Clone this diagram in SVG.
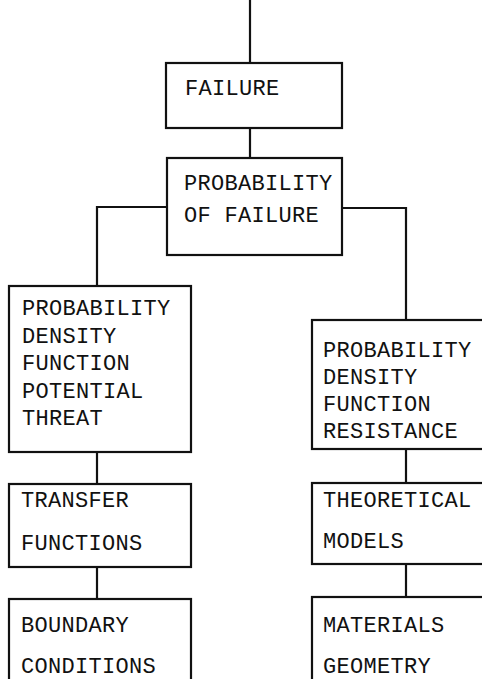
<svg xmlns="http://www.w3.org/2000/svg" width="482" height="679" viewBox="0 0 482 679">
<style>
.box{fill:#fff;stroke:#111;stroke-width:2.2}
.con{fill:none;stroke:#111;stroke-width:2.2}
text{font-family:"Liberation Mono","Courier New",monospace;font-size:22px;fill:#111;letter-spacing:0.3px}
</style>
<rect width="482" height="679" fill="#fff"/>
<g id="connectors">
<line class="con" x1="250" y1="0" x2="250" y2="63"/>
<line class="con" x1="250" y1="128" x2="250" y2="158"/>
<polyline class="con" points="167,207 97,207 97,286"/>
<polyline class="con" points="342,208 406,208 406,320"/>
<line class="con" x1="97" y1="452" x2="97" y2="484"/>
<line class="con" x1="97" y1="567" x2="97" y2="599"/>
<line class="con" x1="406" y1="449" x2="406" y2="483"/>
<line class="con" x1="406" y1="564" x2="406" y2="597"/>
</g>
<g id="failure">
<rect class="box" x="166" y="63" width="176" height="65"/>
<text x="185" y="95">FAILURE</text>
</g>
<g id="probability-of-failure">
<rect class="box" x="167" y="158" width="175" height="97"/>
<text x="184" y="190">PROBABILITY</text>
<text x="184" y="222">OF FAILURE</text>
</g>
<g id="pdf-potential-threat">
<rect class="box" x="9" y="286" width="182" height="166"/>
<text x="22" y="315">PROBABILITY</text>
<text x="22" y="343">DENSITY</text>
<text x="22" y="370">FUNCTION</text>
<text x="22" y="398">POTENTIAL</text>
<text x="22" y="425">THREAT</text>
</g>
<g id="pdf-resistance">
<rect class="box" x="312" y="320" width="180" height="129"/>
<text x="323" y="357">PROBABILITY</text>
<text x="323" y="384">DENSITY</text>
<text x="323" y="411">FUNCTION</text>
<text x="323" y="438">RESISTANCE</text>
</g>
<g id="transfer-functions">
<rect class="box" x="9" y="484" width="182" height="83"/>
<text x="21" y="507">TRANSFER</text>
<text x="21" y="550">FUNCTIONS</text>
</g>
<g id="theoretical-models">
<rect class="box" x="312" y="483" width="180" height="81"/>
<text x="323" y="507">THEORETICAL</text>
<text x="323" y="548">MODELS</text>
</g>
<g id="boundary-conditions">
<rect class="box" x="9" y="599" width="182" height="95"/>
<text x="21" y="632">BOUNDARY</text>
<text x="21" y="673">CONDITIONS</text>
</g>
<g id="materials-geometry">
<rect class="box" x="312" y="597" width="180" height="97"/>
<text x="323" y="632">MATERIALS</text>
<text x="323" y="673">GEOMETRY</text>
</g>
</svg>
